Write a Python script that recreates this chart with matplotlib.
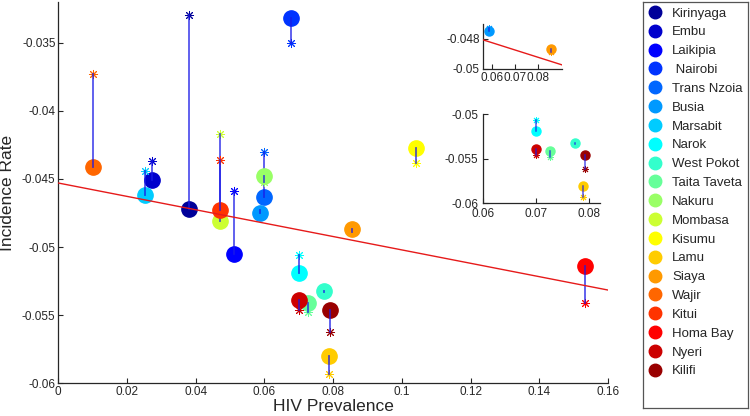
import numpy as np
import matplotlib
matplotlib.use('Agg')
import matplotlib.pyplot as plt
from matplotlib.lines import Line2D
from matplotlib.ticker import FuncFormatter

plt.rcParams['font.family'] = ['Liberation Sans', 'DejaVu Sans']

counties = ['Kirinyaga', 'Embu', 'Laikipia', ' Nairobi', 'Trans Nzoia', 'Busia',
            'Marsabit', 'Narok', 'West Pokot', 'Taita Taveta', 'Nakuru', 'Mombasa',
            'Kisumu', 'Lamu', 'Siaya', 'Wajir', 'Kitui', 'Homa Bay', 'Nyeri', 'Kilifi']
prevalence = [0.0381, 0.0272, 0.0510, 0.0677, 0.0599, 0.0587, 0.0252, 0.0700, 0.0774, 0.0726,
              0.0599, 0.0470, 0.1040, 0.0789, 0.0854, 0.0100, 0.0470, 0.1533, 0.0700, 0.0791]
rate_obs = [-0.0472, -0.0451, -0.0505, -0.0332, -0.0463, -0.0475, -0.0462, -0.0519, -0.0532, -0.0541,
            -0.0448, -0.0481, -0.0427, -0.0580, -0.0487, -0.0441, -0.0473, -0.0514, -0.0539, -0.0546]
rate_pred = [-0.0330, -0.0437, -0.0459, -0.0350, -0.0430, -0.0473, -0.0444, -0.0506, -0.0533, -0.0548,
             -0.0452, -0.0417, -0.0438, -0.0593, -0.0489, -0.0373, -0.0436, -0.0541, -0.0546, -0.0562]
fit_intercept = -0.0453
fit_slope = -0.0491


def matlab_jet(m):
    # same colours as MATLAB's jet(m)
    n = int(np.ceil(m / 4))
    u = np.concatenate([np.arange(1, n + 1) / n, np.ones(n - 1), np.arange(n, 0, -1) / n])
    g = int(np.ceil(n / 2)) - (1 if m % 4 == 1 else 0) + np.arange(1, len(u) + 1)
    J = np.zeros((m, 3))
    for col, idx in enumerate([g + n, g, g - n]):
        for i, v in zip(idx, u):
            if 1 <= i <= m:
                J[i - 1, col] = v
    return J


colors = matlab_jet(len(counties))
txt = '#262626'


def draw(ax, circ, star, lw):
    for i in range(len(counties)):
        ax.plot(prevalence[i], rate_obs[i], 'o', color=colors[i], markersize=circ, zorder=2)
        ax.plot(prevalence[i], rate_pred[i], marker=(8, 2, 0), ls='none', color=colors[i],
                markersize=star, markeredgewidth=0.7, zorder=2)
        ax.plot([prevalence[i], prevalence[i]], [rate_obs[i], rate_pred[i]], '-',
                color=(0.1, 0.1, 0.9), alpha=0.75, lw=lw, zorder=2)
    xs = np.array([0, 0.16])
    ax.plot(xs, fit_intercept + fit_slope * xs, '-', color=(0.9, 0.1, 0.1), lw=1.0, zorder=3)


def style(ax, fs):
    for s in ['top', 'right']:
        ax.spines[s].set_visible(False)
    for s in ['left', 'bottom']:
        ax.spines[s].set_color(txt)
        ax.spines[s].set_linewidth(0.9)
    ax.tick_params(direction='in', length=3.5, width=0.8, colors=txt, labelsize=fs, pad=2)
    fmt = FuncFormatter(lambda v, p: '%g' % round(v, 6))
    ax.xaxis.set_major_formatter(fmt)
    ax.yaxis.set_major_formatter(fmt)


fig = plt.figure(figsize=(7.5, 4.16), dpi=100)

ax = fig.add_axes([58.3 / 750, 1 - 383.3 / 416, 549.7 / 750, 381.5 / 416])
draw(ax, 11, 6.5, 1.3)
ax.set_xlim(0, 0.16)
ax.set_ylim(-0.06, -0.032)
ax.set_xticks(np.arange(0, 0.161, 0.02))
ax.set_yticks([-0.06, -0.055, -0.05, -0.045, -0.04, -0.035])
style(ax, 8.5)
ax.set_xlabel('HIV Prevalence', fontsize=12.5, color=txt, labelpad=1)
ax.set_ylabel('Incidence Rate', fontsize=12.5, color=txt, labelpad=5)

ax1 = fig.add_axes([482.7 / 750, 1 - 69 / 416, 79 / 750, 45 / 416])
draw(ax1, 6.5, 5, 1.1)
ax1.set_xlim(0.056, 0.09)
ax1.set_ylim(-0.05, -0.047)
ax1.set_xticks([0.06, 0.07, 0.08])
ax1.set_yticks([-0.05, -0.048])
style(ax1, 8.5)

ax2 = fig.add_axes([482.7 / 750, 1 - 203.3 / 416, 117.3 / 750, 89 / 416])
draw(ax2, 6.5, 5, 1.1)
ax2.set_xlim(0.06, 0.082)
ax2.set_ylim(-0.06, -0.05)
ax2.set_xticks([0.06, 0.07, 0.08])
ax2.set_yticks([-0.06, -0.055, -0.05])
style(ax2, 8.5)
ax2.tick_params(axis='x', pad=3.5)
ax2.tick_params(axis='y', pad=3)

legax = fig.add_axes([643 / 750, 1 - 408 / 416, 105 / 750, 406 / 416])
legax.set_xticks([])
legax.set_yticks([])
for s in legax.spines.values():
    s.set_color('#555555')
    s.set_linewidth(0.9)
handles = [Line2D([], [], marker='o', ls='none', color=c, markersize=9) for c in colors]
legax.legend(handles, counties, loc='upper left', frameon=False, fontsize=9.5,
             labelspacing=0.5, handlelength=1.0, handletextpad=0.8,
             borderaxespad=0.0, borderpad=0.4, labelcolor=txt)

fig.savefig('out.png', dpi=100)
